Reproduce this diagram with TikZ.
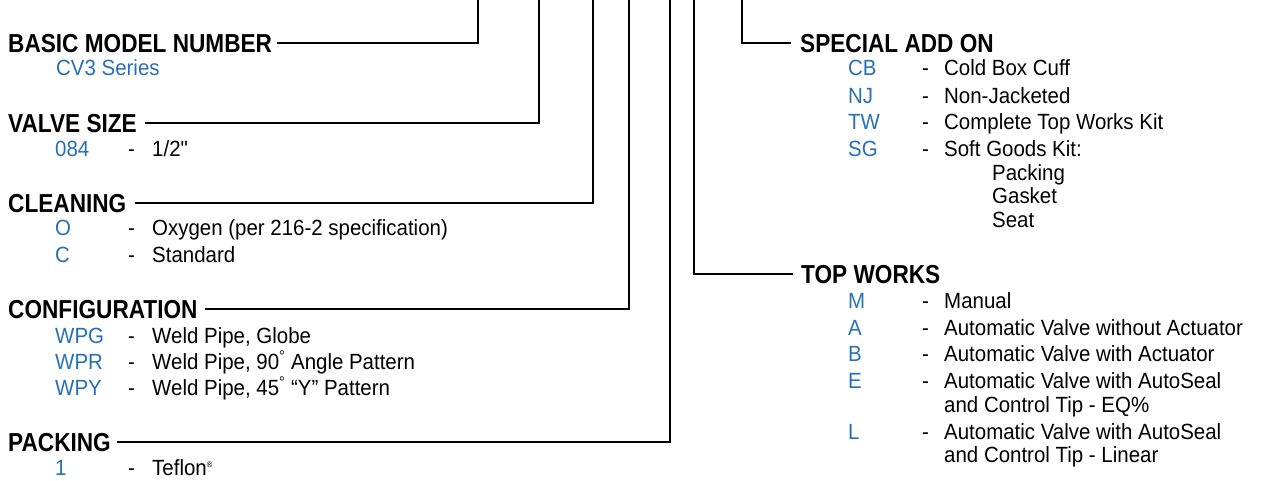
\documentclass[tikz,border=0pt]{standalone}
\usepackage{fontspec}
\setmainfont[FakeStretch=0.93,Ligatures=TeXOff]{Liberation Sans}
\newfontfamily\hdrfont[FakeStretch=0.87]{Liberation Sans}
\definecolor{codeblue}{RGB}{38,112,184}
\newcommand\LRow[4]{%
  \node[code] (#1c) at (55,#2) {#3};
  \node[desc] (#1m) at (128,#2) {-};
  \node[desc] (#1t) at (152,#2) {#4};}
\newcommand\RRow[4]{%
  \node[code] (#1c) at (848,#2) {#3};
  \node[desc] (#1m) at (922,#2) {-};
  \node[desc] (#1t) at (944,#2) {#4};}
\begin{document}
\begin{tikzpicture}[x=1pt,y=-1pt,
  hdr/.style={anchor=base west, inner sep=0pt, text=black, font=\hdrfont\bfseries\fontsize{26}{30}\selectfont},
  code/.style={anchor=base west, inner sep=0pt, text=codeblue, font=\fontsize{22}{26}\selectfont},
  desc/.style={anchor=base west, inner sep=0pt, text=black, font=\fontsize{22}{26}\selectfont},
  leader/.style={line width=2.2pt, black}]
\useasboundingbox (0,0) rectangle (1262,480);

% top ends of the leaders
\coordinate (t1) at (478,0);
\coordinate (t2) at (539,0);
\coordinate (t3) at (593,0);
\coordinate (t4) at (629,0);
\coordinate (t5) at (670,0);
\coordinate (t6) at (694,0);
\coordinate (t7) at (742,0);

% left column
\node[hdr] (bmn) at (8,52) {BASIC MODEL NUMBER};
\node[code] (cv3) at (56,75) {CV3 Series};

\node[hdr] (vsz) at (8,132) {VALVE SIZE};
\LRow{ra}{156}{084}{1/2"}

\node[hdr] (cln) at (8,212) {CLEANING};
\LRow{rb}{235}{O}{Oxygen (per 216-2 specification)}
\LRow{rc}{262}{C}{Standard}

\node[hdr] (cfg) at (8,318) {CONFIGURATION};
\LRow{rd}{343}{WPG}{Weld Pipe, Globe}
\LRow{re}{369}{WPR}{Weld Pipe, 90\textsuperscript{°} Angle Pattern}
\LRow{rf}{395}{WPY}{Weld Pipe, 45\textsuperscript{°} “Y” Pattern}

\node[hdr] (pck) at (8,451) {PACKING};
\LRow{rg}{475}{1}{Teflon\textsuperscript{\footnotesize ®}}

% right column
\node[hdr] (sao) at (800,52) {SPECIAL ADD ON};
\RRow{sa}{75}{CB}{Cold Box Cuff}
\RRow{sb}{103}{NJ}{Non-Jacketed}
\RRow{sc}{129}{TW}{Complete Top Works Kit}
\RRow{sd}{156}{SG}{Soft Goods Kit:}
\node[desc] (se) at (992,180) {Packing};
\node[desc] (sf) at (992,203) {Gasket};
\node[desc] (sg) at (992,227) {Seat};

\node[hdr] (tw) at (801,283) {TOP WORKS};
\RRow{ta}{308}{M}{Manual}
\RRow{tb}{335}{A}{Automatic Valve without Actuator}
\RRow{tc}{361}{B}{Automatic Valve with Actuator}
\RRow{td}{388}{E}{Automatic Valve with AutoSeal}
\node[desc] (te) at (944,412) {and Control Tip - EQ\%};
\RRow{tf}{439}{L}{Automatic Valve with AutoSeal}
\node[desc] (tg) at (944,462) {and Control Tip - Linear};

% leaders
\draw[leader] ([xshift=5pt]bmn.east) -| (t1);
\draw[leader] ([xshift=8pt]vsz.east) -| (t2);
\draw[leader] ([xshift=8pt]cln.east) -| (t3);
\draw[leader] ([xshift=7pt]cfg.east) -| (t4);
\draw[leader] ([xshift=6pt]pck.east) -| (t5);
\draw[leader] ([xshift=-8pt]tw.west) -| (t6);
\draw[leader] ([xshift=-9pt]sao.west) -| (t7);
\end{tikzpicture}
\end{document}
